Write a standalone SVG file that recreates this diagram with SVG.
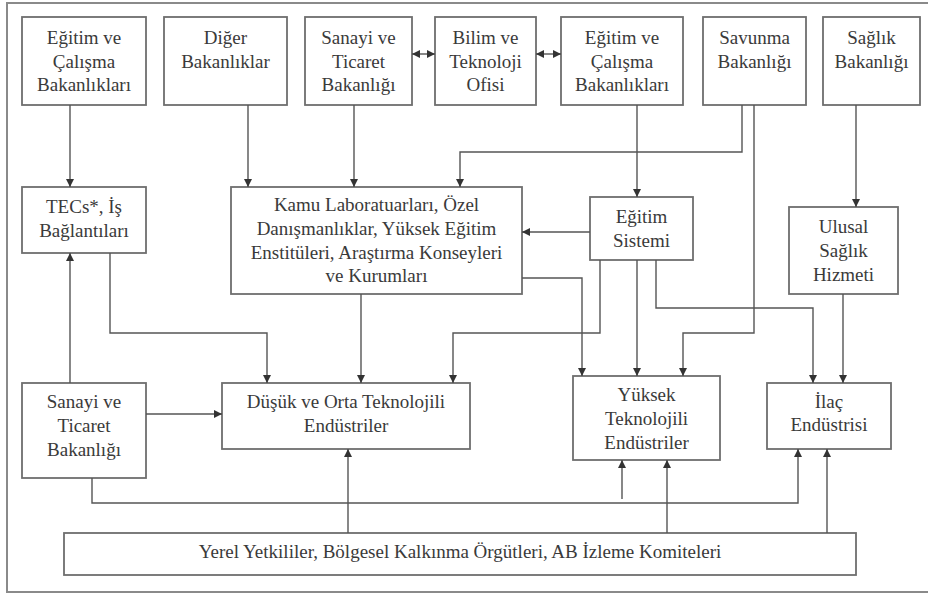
<svg xmlns="http://www.w3.org/2000/svg" width="928" height="594" viewBox="0 0 928 594">
  <style>
    .box { fill: #ffffff; stroke: #6e6e6e; stroke-width: 1.8; }
    .frame { fill: #ffffff; stroke: #8a8a8a; stroke-width: 2; }
    .lbl { font-size: 19px; fill: #3a3a3a; text-anchor: middle; }
    .edge { fill: none; stroke: #555555; stroke-width: 1.4; }
  </style>
  <defs>
    <marker id="arr" viewBox="0 0 8 8" refX="8" refY="4" markerWidth="8" markerHeight="8" markerUnits="userSpaceOnUse" orient="auto-start-reverse">
      <path d="M0,0 L8,4 L0,8 z" fill="#333333"/>
    </marker>
  </defs>

  <rect class="frame" x="7" y="3" width="930" height="589"/>

  <g font-family="Liberation Serif, DejaVu Serif, Times New Roman, Times, serif">
  <!-- top row -->
  <g id="egitim-calisma-1">
    <rect class="box" x="22" y="17" width="124" height="88"/>
    <text class="lbl" x="84" y="44">Eğitim ve</text>
    <text class="lbl" x="84" y="67.5">Çalışma</text>
    <text class="lbl" x="84" y="91">Bakanlıkları</text>
  </g>
  <g id="diger-bakanliklar">
    <rect class="box" x="164" y="17" width="123" height="88"/>
    <text class="lbl" x="225.5" y="44">Diğer</text>
    <text class="lbl" x="225.5" y="67.5">Bakanlıklar</text>
  </g>
  <g id="sanayi-ticaret-1">
    <rect class="box" x="305" y="17" width="107" height="88"/>
    <text class="lbl" x="358.5" y="44">Sanayi ve</text>
    <text class="lbl" x="358.5" y="67.5">Ticaret</text>
    <text class="lbl" x="358.5" y="91">Bakanlığı</text>
  </g>
  <g id="bilim-teknoloji">
    <rect class="box" x="435" y="17" width="101" height="88"/>
    <text class="lbl" x="485.5" y="44">Bilim ve</text>
    <text class="lbl" x="485.5" y="67.5">Teknoloji</text>
    <text class="lbl" x="485.5" y="91">Ofisi</text>
  </g>
  <g id="egitim-calisma-2">
    <rect class="box" x="561" y="17" width="122" height="88"/>
    <text class="lbl" x="622" y="44">Eğitim ve</text>
    <text class="lbl" x="622" y="67.5">Çalışma</text>
    <text class="lbl" x="622" y="91">Bakanlıkları</text>
  </g>
  <g id="savunma">
    <rect class="box" x="703" y="17" width="103" height="88"/>
    <text class="lbl" x="754.5" y="44">Savunma</text>
    <text class="lbl" x="754.5" y="67.5">Bakanlığı</text>
  </g>
  <g id="saglik">
    <rect class="box" x="823" y="17" width="97" height="88"/>
    <text class="lbl" x="871.5" y="44">Sağlık</text>
    <text class="lbl" x="871.5" y="67.5">Bakanlığı</text>
  </g>

  <!-- middle row -->
  <g id="tecs">
    <rect class="box" x="22" y="187" width="124" height="66"/>
    <text class="lbl" x="84" y="213">TECs*, İş</text>
    <text class="lbl" x="84" y="237">Bağlantıları</text>
  </g>
  <g id="kamu-lab">
    <rect class="box" x="231" y="187" width="291" height="107"/>
    <text class="lbl" x="376.5" y="211">Kamu Laboratuarları, Özel</text>
    <text class="lbl" x="376.5" y="235">Danışmanlıklar, Yüksek Eğitim</text>
    <text class="lbl" x="376.5" y="259">Enstitüleri, Araştırma Konseyleri</text>
    <text class="lbl" x="376.5" y="282">ve Kurumları</text>
  </g>
  <g id="egitim-sistemi">
    <rect class="box" x="590" y="197" width="103" height="63"/>
    <text class="lbl" x="641.5" y="223">Eğitim</text>
    <text class="lbl" x="641.5" y="247">Sistemi</text>
  </g>
  <g id="ulusal-saglik">
    <rect class="box" x="789" y="207" width="109" height="87"/>
    <text class="lbl" x="843.5" y="233">Ulusal</text>
    <text class="lbl" x="843.5" y="257">Sağlık</text>
    <text class="lbl" x="843.5" y="281">Hizmeti</text>
  </g>

  <!-- bottom row -->
  <g id="sanayi-ticaret-2">
    <rect class="box" x="22" y="383" width="124" height="95"/>
    <text class="lbl" x="84" y="408">Sanayi ve</text>
    <text class="lbl" x="84" y="432">Ticaret</text>
    <text class="lbl" x="84" y="456">Bakanlığı</text>
  </g>
  <g id="dusuk-orta">
    <rect class="box" x="222" y="383" width="248" height="66"/>
    <text class="lbl" x="346" y="408">Düşük ve Orta Teknolojili</text>
    <text class="lbl" x="346" y="432">Endüstriler</text>
  </g>
  <g id="yuksek">
    <rect class="box" x="573" y="376" width="147" height="84"/>
    <text class="lbl" x="646.5" y="401">Yüksek</text>
    <text class="lbl" x="646.5" y="425">Teknolojili</text>
    <text class="lbl" x="646.5" y="449">Endüstriler</text>
  </g>
  <g id="ilac">
    <rect class="box" x="767" y="383" width="124" height="66"/>
    <text class="lbl" x="829" y="408">İlaç</text>
    <text class="lbl" x="829" y="431">Endüstrisi</text>
  </g>
  <g id="yerel">
    <rect class="box" x="64" y="533" width="792" height="42"/>
    <text class="lbl" x="460" y="558">Yerel Yetkililer, Bölgesel Kalkınma Örgütleri, AB İzleme Komiteleri</text>
  </g>
  </g>

  <!-- connectors -->
  <g id="connectors">
    <path class="edge" d="M70,105 V187" marker-end="url(#arr)"/>
    <path class="edge" d="M248,105 V187" marker-end="url(#arr)"/>
    <path class="edge" d="M354,105 V187" marker-end="url(#arr)"/>
    <path class="edge" d="M742,105 V152 H460 V187" marker-end="url(#arr)"/>
    <path class="edge" d="M754,105 V333 H683 V376" marker-end="url(#arr)"/>
    <path class="edge" d="M637,105 V197" marker-end="url(#arr)"/>
    <path class="edge" d="M856,105 V207" marker-end="url(#arr)"/>
    <path class="edge" d="M590,232 H522" marker-end="url(#arr)"/>
    <path class="edge" d="M600,260 V333 H453 V383" marker-end="url(#arr)"/>
    <path class="edge" d="M637,260 V376" marker-end="url(#arr)"/>
    <path class="edge" d="M656,260 V308 H813 V383" marker-end="url(#arr)"/>
    <path class="edge" d="M843,294 V383" marker-end="url(#arr)"/>
    <path class="edge" d="M522,278 H582 V376" marker-end="url(#arr)"/>
    <path class="edge" d="M361,294 V383" marker-end="url(#arr)"/>
    <path class="edge" d="M110,253 V333 H267 V383" marker-end="url(#arr)"/>
    <path class="edge" d="M70,383 V253" marker-end="url(#arr)"/>
    <path class="edge" d="M146,414 H222" marker-end="url(#arr)"/>
    <path class="edge" d="M92,478 V503 H798 V449" marker-end="url(#arr)"/>
    <path class="edge" d="M622,499 V460" marker-end="url(#arr)"/>
    <path class="edge" d="M348,533 V449" marker-end="url(#arr)"/>
    <path class="edge" d="M667,533 V460" marker-end="url(#arr)"/>
    <path class="edge" d="M827,533 V449" marker-end="url(#arr)"/>
    <path class="edge" d="M412,54 H435" marker-start="url(#arr)" marker-end="url(#arr)"/>
    <path class="edge" d="M536,54 H561" marker-start="url(#arr)" marker-end="url(#arr)"/>
  </g>
</svg>
